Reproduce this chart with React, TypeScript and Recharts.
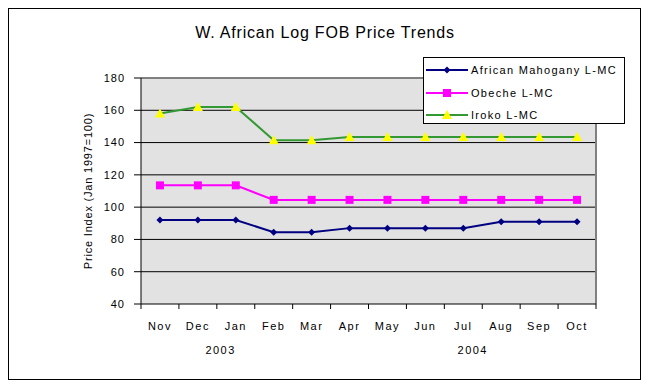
import React from 'react';
import { LineChart, Line, XAxis, YAxis, CartesianGrid, ReferenceArea } from 'recharts';

const months = ['Nov', 'Dec', 'Jan', 'Feb', 'Mar', 'Apr', 'May', 'Jun', 'Jul', 'Aug', 'Sep', 'Oct'];
const mahogany = [92, 92, 92, 84.5, 84.5, 87, 87, 87, 87, 91, 91, 91];
const obeche = [113.5, 113.5, 113.5, 104.5, 104.5, 104.5, 104.5, 104.5, 104.5, 104.5, 104.5, 104.5];
const iroko = [158, 162, 162, 141.5, 141.5, 143.5, 143.5, 143.5, 143.5, 143.5, 143.5, 143.5];
const yTicks = [40, 60, 80, 100, 120, 140, 160, 180];
const yearLabels = [
  { month: 'Dec', year: '2003', shift: 0.6 },
  { month: 'Jul', year: '2004', shift: 0.25 },
];

const data = months.map((m, i) => ({ month: m, mahogany: mahogany[i], obeche: obeche[i], iroko: iroko[i] }));

const FONT = '"Liberation Sans", Arial, sans-serif';
const W = 648;
const H = 389;
const X_H = 30;
const M = { top: 78, right: 52, bottom: 85 - X_H, left: 81 };
const Y_W = 60;
const BAND = (W - M.left - Y_W - M.right) / months.length;

const series = [
  { key: 'mahogany', name: 'African Mahogany L-MC', color: '#000080', marker: 'diamond' },
  { key: 'obeche', name: 'Obeche L-MC', color: '#FF00FF', marker: 'square' },
  { key: 'iroko', name: 'Iroko L-MC', color: '#339933', marker: 'triangle' },
];

function marker(type: string, cx: number, cy: number, color: string, key?: any) {
  if (type === 'square') return <rect key={key} x={cx - 4} y={cy - 4} width={8} height={8} fill="#FF00FF" />;
  if (type === 'triangle')
    return <path key={key} d={`M${cx},${cy - 5} L${cx + 5},${cy + 4} L${cx - 5},${cy + 4} Z`} fill="#FFFF00" />;
  return <path key={key} d={`M${cx},${cy - 3.5} L${cx + 3.5},${cy} L${cx},${cy + 3.5} L${cx - 3.5},${cy} Z`} fill={color} />;
}

function MonthTick(props: any) {
  const { x, y, payload, index } = props;
  const yl = yearLabels.find((d) => d.month === payload.value);
  return (
    <g>
      <line x1={x - BAND / 2} x2={x - BAND / 2} y1={y} y2={y + 5} stroke="#000" />
      {index === months.length - 1 && <line x1={x + BAND / 2} x2={x + BAND / 2} y1={y} y2={y + 5} stroke="#000" />}
      <text x={x} y={y + 26} textAnchor="middle" fontSize={11} letterSpacing={1.5} fill="#000" fontFamily={FONT}>
        {payload.value}
      </text>
      {yl && (
        <text x={x + BAND * yl.shift} y={y + 50} textAnchor="middle" fontSize={11} letterSpacing={1.5} fill="#000" fontFamily={FONT}>
          {yl.year}
        </text>
      )}
    </g>
  );
}

function LegendBox() {
  return (
    <div
      style={{ position: 'absolute', left: 423, top: 57, width: 202, height: 67, border: '1px solid #000', background: '#fff', boxSizing: 'border-box' }}
    >
      {series.map((s, i) => (
        <div key={s.key} style={{ position: 'absolute', left: 2, top: 5 + i * 22.5, height: 14, display: 'flex', alignItems: 'center' }}>
          <svg width={42} height={14}>
            <line x1={0} x2={42} y1={7} y2={7} stroke={s.color} strokeWidth={2} />
            {marker(s.marker, 21, 7, s.color)}
          </svg>
          <span style={{ fontFamily: FONT, fontSize: 11, letterSpacing: 1.3, marginLeft: 3, color: '#000', whiteSpace: 'nowrap' }}>
            {s.name}
          </span>
        </div>
      ))}
    </div>
  );
}

export default function App() {
  return (
    <div style={{ position: 'fixed', left: 0, top: 0, width: W, height: H, background: '#fff' }}>
      <div style={{ position: 'absolute', left: 8, top: 8, width: 633, height: 372, border: '1px solid #000', boxSizing: 'border-box' }} />
      <div
        style={{ position: 'absolute', left: 0, width: 650, top: 24, textAlign: 'center', fontFamily: FONT, fontSize: 16, letterSpacing: 0.8, color: '#000' }}
      >
        W. African Log FOB Price Trends
      </div>
      <LineChart width={W} height={H} data={data} margin={M} style={{ position: 'absolute', left: 0, top: 0 }}>
        <CartesianGrid vertical={false} stroke="#000" fill="#E2E2E2" fillOpacity={1} horizontalValues={[60, 80, 100, 120, 140, 160]} />
        <ReferenceArea
          y1={40}
          y2={180}
          ifOverflow="visible"
          shape={(p: any) => {
            const l = p.x - BAND / 2;
            const r = p.x + p.width + BAND / 2;
            return (
              <path d={`M${l},${p.y} L${r},${p.y} L${r},${p.y + p.height}`} fill="none" stroke="#808080" strokeWidth={2} />
            );
          }}
        />
        <XAxis
          dataKey="month"
          height={X_H}
          axisLine={{ stroke: '#000' }}
          tickLine={false}
          tickSize={0}
          tickMargin={0}
          interval={0}
          padding={{ left: BAND / 2, right: BAND / 2 }}
          tick={<MonthTick />}
        />
        <YAxis
          domain={[40, 180]}
          ticks={yTicks}
          width={Y_W}
          axisLine={{ stroke: '#000' }}
          tickLine={{ stroke: '#000' }}
          tickSize={7}
          tickMargin={9}
          tick={{ fill: '#000', fontSize: 11, fontFamily: FONT, letterSpacing: 1 }}
          label={{
            value: 'Price Index (Jan 1997=100)',
            angle: -90,
            position: 'insideLeft',
            offset: 7,
            style: { textAnchor: 'middle', fontSize: 11, fontFamily: FONT, letterSpacing: 0.8, fill: '#000' },
          }}
        />
        {series.map((s) => (
          <Line
            key={s.key}
            type="linear"
            dataKey={s.key}
            name={s.name}
            stroke={s.color}
            strokeWidth={2}
            isAnimationActive={false}
            dot={(p: any) => marker(s.marker, p.cx, p.cy, s.color, p.index)}
            activeDot={false}
          />
        ))}
      </LineChart>
      <LegendBox />
    </div>
  );
}
